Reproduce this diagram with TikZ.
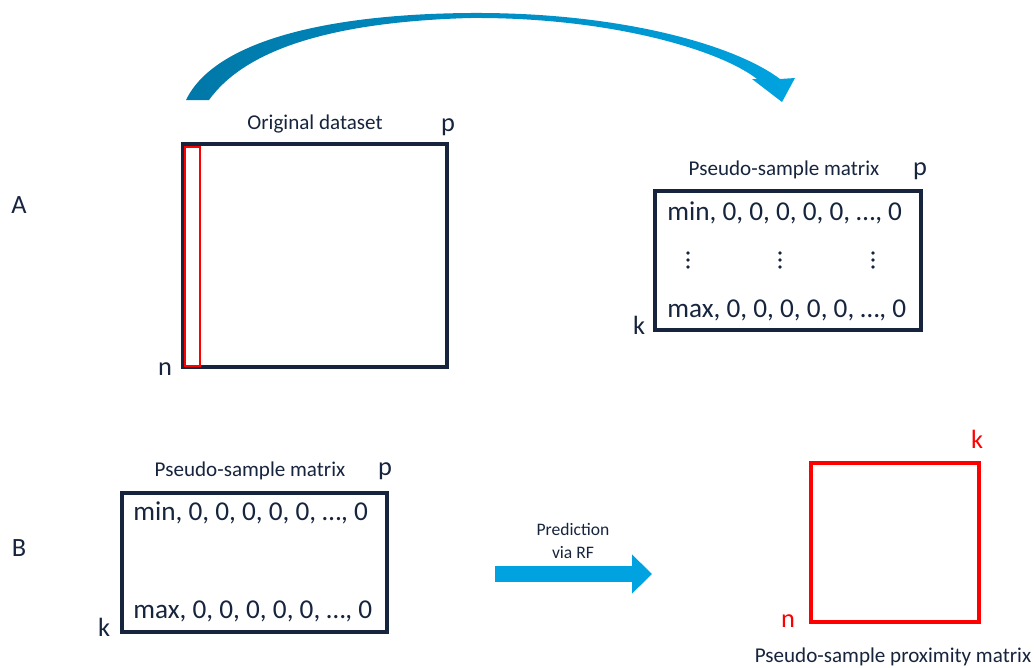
\documentclass[tikz,border=0pt]{standalone}
\usepackage{fontspec}
\setmainfont{Carlito}
\usetikzlibrary{arrows.meta}
\definecolor{matnavy}{RGB}{22, 36, 62}
\definecolor{rfblue}{RGB}{0, 163, 224}
\definecolor{rfdark}{RGB}{0, 120, 168}
\tikzstyle{matbox} = [line width=1.9pt, draw=matnavy]
\tikzstyle{proxbox} = [line width=1.9pt, draw=red]
\tikzstyle{colbox} = [line width=1.1pt, draw=red]
\tikzstyle{boxtitle} = [inner sep=0pt, text=matnavy, font=\fontsize{12}{14}\selectfont]
\tikzstyle{dimtext} = [inner sep=0pt, text=matnavy, font=\fontsize{15}{18}\selectfont]
\tikzstyle{rowtext} = [inner sep=0pt, anchor=west, text=matnavy, font=\fontsize{15.5}{18}\selectfont]
\tikzstyle{fatarrow} = [line width=0.32cm, draw=rfblue, -{Triangle[length=0.4cm, width=0.76cm]}]

\begin{document}
\begin{tikzpicture}[x=0.02cm, y=-0.02cm]
            \useasboundingbox (0,0) rectangle (1035,667);

            % Panel letters
            \node[dimtext] (panelA) at (19,205) {A};
            \node[dimtext] (panelB) at (19,548) {B};

            % Curved arrow on top
            \shade[left color=rfdark, right color=rfblue]
              (186,100) .. controls (215,40) and (330,14) .. (470,13)
              .. controls (620,12) and (735,45) .. (780,79)
              -- (795,78) -- (782,102) -- (752,79) -- (757,79)
              .. controls (720,50) and (610,17) .. (470,18)
              .. controls (330,22) and (245,50) .. (209,100) -- cycle;

            % Original dataset
            \coordinate (orig-nw) at (183,144);
            \coordinate (orig-se) at (447,367);
            \draw[matbox] (orig-nw) rectangle (orig-se);
            \draw[colbox] (185,147) rectangle (200,366);
            \node[boxtitle] (origtitle) at (315,124) {Original dataset};
            \node[dimtext] (origp) at (448,127) {p};
            \node[dimtext] (orign) at (165,369) {n};

            % Pseudo-sample matrix (A)
            \coordinate (psa-nw) at (655,191);
            \coordinate (psa-se) at (921,330);
            \draw[matbox] (psa-nw) rectangle (psa-se);
            \node[boxtitle] (psatitle) at (784,170) {Pseudo-sample matrix};
            \node[dimtext] (psap) at (920,171) {p};
            \node[dimtext] (psak) at (639,325) {k};
            \node[rowtext] (psamin) at (667,213) {min, 0, 0, 0, 0, 0, …, 0};
            \node[rowtext] (psamax) at (667,310) {max, 0, 0, 0, 0, 0, …, 0};
            \foreach \x in {688,780,873}
              \foreach \y in {253,260,267}
                \fill[matnavy] (\x,\y) circle (1.1pt);

            % Pseudo-sample matrix (B)
            \coordinate (psb-nw) at (122,493);
            \coordinate (psb-se) at (387,632);
            \draw[matbox] (psb-nw) rectangle (psb-se);
            \node[boxtitle] (psbtitle) at (250,471) {Pseudo-sample matrix};
            \node[dimtext] (psbp) at (385,471) {p};
            \node[dimtext] (psbk) at (104,627) {k};
            \node[rowtext] (psbmin) at (133,513) {min, 0, 0, 0, 0, 0, …, 0};
            \node[rowtext] (psbmax) at (133,611) {max, 0, 0, 0, 0, 0, …, 0};

            % Prediction arrow
            \coordinate (predtail) at (495,574);
            \coordinate (predhead) at (652,574);
            \draw[fatarrow] (predtail) -- (predhead);
            \node[boxtitle, align=center, font=\fontsize{10}{13}\selectfont] (predtext) at (573,541) {Prediction\\via RF};

            % Proximity matrix
            \coordinate (prox-nw) at (811,463);
            \coordinate (prox-se) at (979,622);
            \draw[proxbox] (prox-nw) rectangle (prox-se);
            \node[dimtext, text=red] (proxk) at (977,439) {k};
            \node[dimtext, text=red] (proxn) at (788,621) {n};
            \node[boxtitle] (proxtitle) at (893,657) {Pseudo-sample proximity matrix};
          \end{tikzpicture}
\end{document}
